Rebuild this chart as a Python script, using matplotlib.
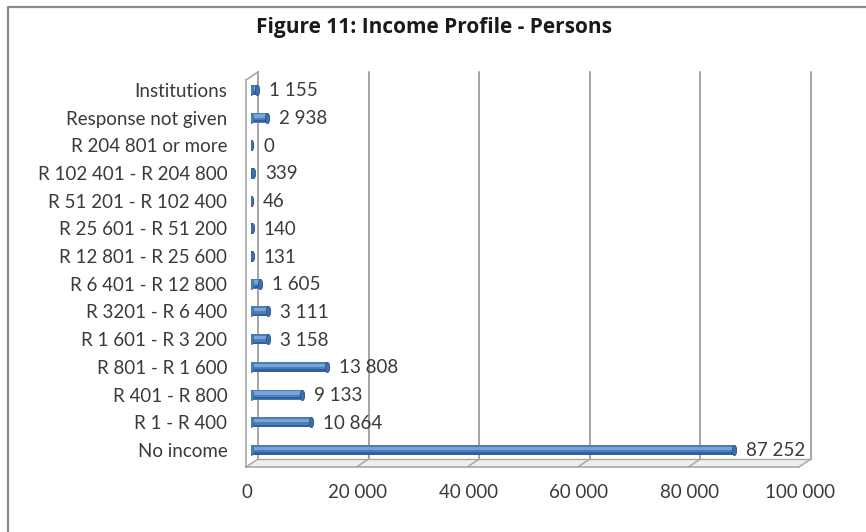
import matplotlib
matplotlib.use("Agg")
import matplotlib.pyplot as plt
from matplotlib.path import Path
from matplotlib.patches import Polygon
from matplotlib.lines import Line2D
from matplotlib.transforms import offset_copy, Affine2D, ScaledTranslation
import numpy as np

# data (bottom to top)
categories = [
    "No income", "R 1 - R 400", "R 401 - R 800", "R 801 - R 1 600",
    "R 1 601 - R 3 200", "R 3201 - R 6 400", "R 6 401 - R 12 800",
    "R 12 801 - R 25 600", "R 25 601 - R 51 200", "R 51 201 - R 102 400",
    "R 102 401 - R 204 800", "R 204 801 or more", "Response not given",
    "Institutions",
]
persons = [87252, 10864, 9133, 13808, 3158, 3111, 1605, 131, 140, 46, 339, 0, 2938, 1155]
x_ticks = [0, 20000, 40000, 60000, 80000, 100000]

plt.rcParams["font.family"] = ["Lato", "DejaVu Sans"]
TEXT = "#3a3a3a"
W, H = 866, 532

fig = plt.figure(figsize=(W / 100, H / 100), dpi=100)
fig.patch.set_facecolor("white")

# axes = plane in which the bars sit (middle depth of the 3d box)
L, R, T, B = 251, 804, 76, 463
ax = fig.add_axes([L / W, 1 - B / H, (R - L) / W, (B - T) / H])
ax.set_xlim(0, 100000)
ax.set_ylim(-0.47, 13.5)
for s in ax.spines.values():
    s.set_visible(False)
ax.patch.set_visible(False)

front = offset_copy(ax.transData, fig=fig, x=-5, y=-4, units="dots")
back = offset_copy(ax.transData, fig=fig, x=7, y=4, units="dots")
y0, y1 = ax.get_ylim()
GRID = "#8c8c8c"
WALL = "#a8a8a8"

# floor fill
corners = [front.transform((0, y0)), front.transform((100000, y0)),
           back.transform((100000, y0)), back.transform((0, y0))]
fig.add_artist(Polygon(np.array(corners), closed=True, transform=None,
                       facecolor="#eeeeee", edgecolor="none", zorder=0))

# back wall gridlines
for xv in x_ticks:
    ax.plot([xv, xv], [y0, y1], color=GRID, lw=1.1, transform=back, clip_on=False, zorder=1)
    # slanted tick on the floor
    p0 = back.transform((xv, y0))
    p1 = front.transform((xv, y0))
    fig.add_artist(Line2D([p0[0], p1[0]], [p0[1], p1[1]], transform=None,
                          color=WALL, lw=1.1, zorder=1))

# floor edges and left wall front edge
ax.plot([0, 100000], [y0, y0], color=WALL, lw=1.2, transform=front, clip_on=False, zorder=1)
ax.plot([0, 100000], [y0, y0], color=WALL, lw=1.0, transform=back, clip_on=False, zorder=1)
ax.plot([0, 0], [y0, y1], color=WALL, lw=1.2, transform=front, clip_on=False, zorder=1)
p0 = front.transform((0, y1))
p1 = back.transform((0, y1))
fig.add_artist(Line2D([p0[0], p1[0]], [p0[1], p1[1]], transform=None, color=WALL, lw=1.2))

# bars (cylinder look)
ypos = np.arange(len(categories))
vals = np.array(persons)
ax.barh(ypos, vals, height=0.36, color="#4a7ebb", zorder=3)
ax.barh(ypos - 0.13, vals, height=0.08, color="#34609a", zorder=3)
ax.barh(ypos + 0.06, vals, height=0.12, color="#7aa3d8", zorder=3)

circle = Path.unit_circle()
cap = circle.transformed(Affine2D().scale(0.42, 1.0))
ax.plot(np.zeros_like(vals), ypos, ls="none", marker=cap, ms=7.4,
        color="#4a7ebb", mec="#3a6aa8", mew=0.5, zorder=3)
ax.plot(vals, ypos, ls="none", marker=cap, ms=7.4,
        color="#3f70ae", mec="#2c5488", mew=0.6, zorder=4)

for v, y in zip(vals, ypos):
    ax.annotate(f"{v:,}".replace(",", " "), (v, y), xytext=(12, -1),
                textcoords="offset pixels", ha="left", va="center",
                fontsize=13.5, color=TEXT, zorder=5)

# axis labels
ax.set_yticks(ypos, categories)
ax.set_xticks(x_ticks, [f"{t:,}".replace(",", " ") for t in x_ticks])
ax.tick_params(axis="y", length=0, pad=17, labelsize=13.5, labelcolor=TEXT)
ax.tick_params(axis="x", length=0, pad=15, labelsize=13.5, labelcolor=TEXT)
shift = ScaledTranslation(-4 / 100, 0, fig.dpi_scale_trans)
for lab in ax.get_xticklabels():
    lab.set_transform(lab.get_transform() + shift)

fig.text(434 / W, 1 - 27 / H, "Figure 11: Income Profile - Persons",
         ha="center", va="center", fontsize=15, fontweight="bold",
         family=["Open Sans", "DejaVu Sans"], color="#1a1a1a")

# outer chart frame (left and top edges visible)
fig.add_artist(Line2D([8 / W, 8 / W, 1], [0, 1 - 7 / H, 1 - 7 / H],
                      transform=fig.transFigure, color="#8a8a8a", lw=1.6))

fig.savefig("out.png", dpi=100)
